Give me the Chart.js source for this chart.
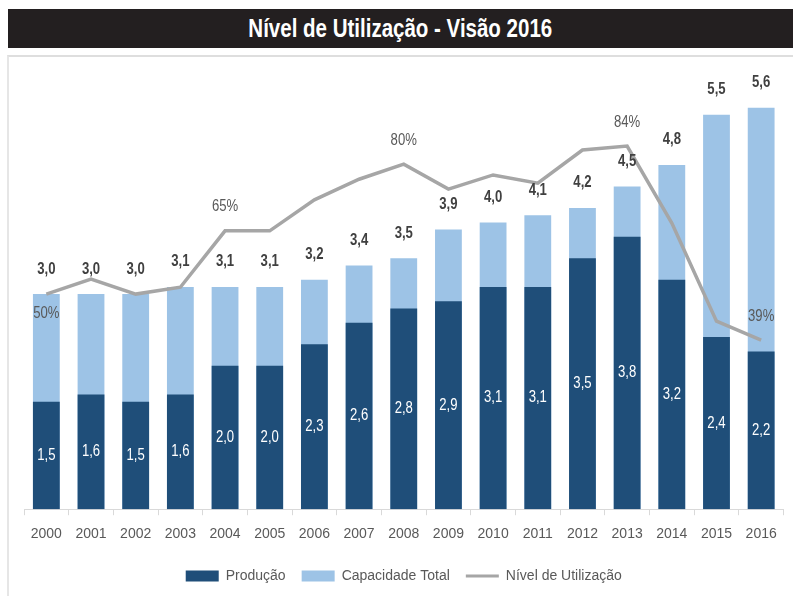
<!DOCTYPE html>
<html><head><meta charset="utf-8">
<script src="https://cdn.jsdelivr.net/npm/chart.js@4/dist/chart.umd.min.js"></script>
<style>
html,body{margin:0;padding:0;background:#fff;width:793px;height:596px;overflow:hidden;}
#title{position:absolute;left:8px;top:9px;width:785px;height:39px;background:#231f20;color:#fff;font:bold 25px 'Liberation Sans',sans-serif;display:flex;align-items:center;justify-content:center;}
#title span{display:inline-block;transform:scaleX(0.82);white-space:nowrap;}
#frame{position:absolute;left:7px;top:55px;width:800px;height:600px;border-top:2px solid #dedede;border-left:2px solid #e6e6e6;}
#c{position:absolute;left:0;top:0;}
</style></head><body>
<div id="title"><span>Nível de Utilização - Visão 2016</span></div>
<div id="frame"></div>
<canvas id="c" width="793" height="596"></canvas>
<script>
const categories = ['2000','2001','2002','2003','2004','2005','2006','2007','2008','2009','2010','2011','2012','2013','2014','2015','2016'];
const producao = [1.5,1.6,1.5,1.6,2.0,2.0,2.3,2.6,2.8,2.9,3.1,3.1,3.5,3.8,3.2,2.4,2.2];
const capacidade = [3.0,3.0,3.0,3.1,3.1,3.1,3.2,3.4,3.5,3.9,4.0,4.1,4.2,4.5,4.8,5.5,5.6];
const utilizacao = [0.50,0.535,0.50,0.516,0.647,0.647,0.719,0.767,0.802,0.744,0.777,0.758,0.835,0.844,0.665,0.437,0.393];
const utilizacaoLabelIdx = [0,4,8,13,16];
const seriesNames = ['Produção','Capacidade Total','Nível de Utilização'];

const FONT = "'Liberation Sans',sans-serif";
const NARROW = 0.82;
const fmt = v => v.toFixed(1).replace('.', ',');

function narrowText(ctx, text, x, y) {
  ctx.save();
  ctx.translate(x, y);
  ctx.scale(NARROW, 1);
  ctx.fillText(text, 0, 0);
  ctx.restore();
}

const labelPlugin = {
  id: 'labels',
  afterDatasetsDraw(chart) {
    const ctx = chart.ctx;
    ctx.save();
    ctx.textAlign = 'center';
    ctx.textBaseline = 'middle';
    ctx.font = '16px ' + FONT;
    ctx.fillStyle = '#ffffff';
    chart.getDatasetMeta(0).data.forEach((el, i) => {
      narrowText(ctx, fmt(producao[i]), el.x, (el.y + el.base) / 2);
    });
    ctx.font = 'bold 16px ' + FONT;
    ctx.fillStyle = '#404040';
    chart.getDatasetMeta(1).data.forEach((el, i) => {
      narrowText(ctx, fmt(capacidade[i]), el.x, el.y - 25);
    });
    ctx.font = '16px ' + FONT;
    ctx.fillStyle = '#595959';
    const lm = chart.getDatasetMeta(2).data;
    utilizacaoLabelIdx.forEach((i, k) => {
      const el = lm[i];
      const dy = k === 0 ? 19 : -24;
      narrowText(ctx, Math.round(utilizacao[i] * 100) + '%', el.x, el.y + dy);
    });
    ctx.restore();
  }
};

new Chart(document.getElementById('c'), {
  type: 'bar',
  data: {
    labels: categories,
    datasets: [
      { label: seriesNames[0], data: producao, backgroundColor: '#1f4e79', grouped: false, order: 1, yAxisID: 'y', pointStyle: 'rect' },
      { label: seriesNames[1], data: capacidade, backgroundColor: '#9dc3e6', grouped: false, order: 2, yAxisID: 'y', pointStyle: 'rect' },
      { label: seriesNames[2], data: utilizacao, type: 'line', borderColor: '#a6a6a6', backgroundColor: '#a6a6a6', borderWidth: 3.5, pointRadius: 0, pointHoverRadius: 0, pointStyle: 'line', pointBorderWidth: 3, pointBorderColor: '#a6a6a6', tension: 0, order: 0, yAxisID: 'y1' }
    ]
  },
  options: {
    responsive: false,
    animation: false,
    devicePixelRatio: 1,
    layout: { padding: { left: 24, right: 9.5, top: 79, bottom: 3 } },
    datasets: { bar: { categoryPercentage: 1, barPercentage: 0.6 } },
    scales: {
      x: {
        grid: { display: true, drawOnChartArea: false, drawTicks: true, tickLength: 6, color: '#d9d9d9', offset: true },
        border: { display: true, color: '#d9d9d9', width: 1 },
        ticks: { color: '#595959', font: { family: FONT, size: 14 }, padding: 10.5, maxRotation: 0, autoSkip: false }
      },
      y: { display: false, min: 0, max: 6 },
      y1: { display: false, min: 0, max: 1 }
    },
    plugins: {
      legend: {
        position: 'bottom',
        labels: { color: '#595959', font: { family: FONT, size: 14 }, usePointStyle: true, pointStyleWidth: 33, boxWidth: 33, boxHeight: 11, padding: 16, sort: (a, b) => a.datasetIndex - b.datasetIndex }
      },
      tooltip: { enabled: false },
      title: { display: false }
    }
  },
  plugins: [labelPlugin]
});
</script>
</body></html>
